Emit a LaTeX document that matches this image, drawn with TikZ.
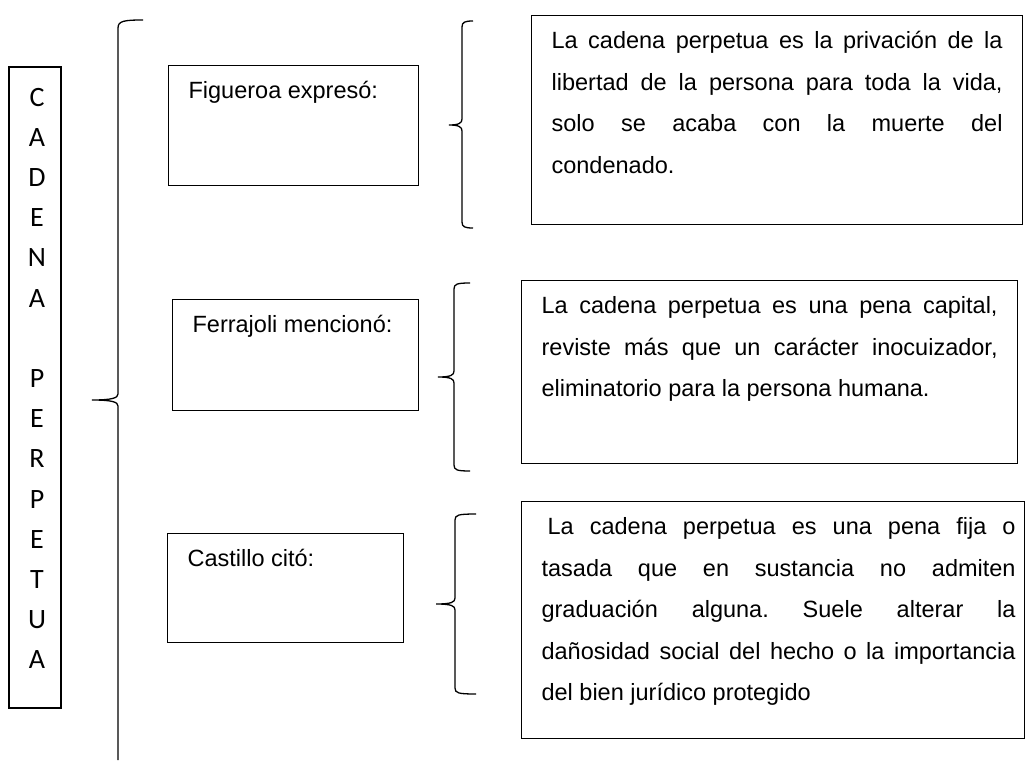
\documentclass[tikz,border=0pt]{standalone}
\usepackage{fontspec}
\setmainfont{Liberation Sans}
\newfontfamily\carlito{Carlito}
\usepackage{tikz}
\frenchspacing

\tikzset{
    caja/.style={draw, line width=1.2pt, inner xsep=20pt, inner ysep=16pt, anchor=north west},
    llave/.style={line width=1.3pt},
}

\begin{document}
\begin{tikzpicture}[x=1pt, y=-1pt, font=\fontsize{23.5}{41.5}\selectfont]
    \useasboundingbox (0,0) rectangle (1027,760);

    % titulo vertical
    \node[draw, line width=1.2pt, inner sep=0pt, minimum width=52pt, minimum height=641pt] (marco) at (35,387.5) {};
    \node[align=center, inner sep=0pt, font=\carlito\fontsize{28}{40.2}\selectfont] (titulo) at (37,378.5)
        {C\\A\\D\\E\\N\\A\\[40.2pt]P\\E\\R\\P\\E\\T\\U\\A};

    % autores
    \node[caja] (figueroa) at (168,65) {\parbox[t][88pt][t]{210pt}{Figueroa expresó:}};
    \node[caja] (ferrajoli) at (172,299) {\parbox[t][79pt][t]{206pt}{Ferrajoli mencionó:}};
    \node[caja] (castillo) at (167,533) {\parbox[t][77pt][t]{196pt}{Castillo citó:}};

    % citas
    \node[caja] (cita1) at (531,15) {\parbox[t][177pt][t]{451pt}{La cadena perpetua es la privación de la\linebreak
        libertad de la persona para toda la vida,\linebreak solo se acaba con la muerte del\linebreak condenado.}};
    \node[caja] (cita2) at (521,280) {\parbox[t][151pt][t]{456pt}{La cadena perpetua es una pena capital,\linebreak
        reviste más que un carácter inocuizador,\linebreak eliminatorio para la persona humana.}};
    \node[caja, inner xsep=9pt] (cita3) at (521,501) {\parbox[t][205pt][t]{485pt}{\leftskip=11pt
        \hspace*{6pt}La cadena perpetua es una pena fija o\linebreak tasada que en sustancia no admiten\linebreak
        graduación alguna. Suele alterar la\linebreak dañosidad social del hecho o la importancia\linebreak
        del bien jurídico protegido}};

    % llaves
    \draw[llave] (143,20) .. controls (124,20) and (118,21) .. (118,28) -- (118,394)
        .. controls (118,398) and (112,400) .. (92,400) .. controls (112,400) and (118,402) .. (118,406) -- (118,760);
    \draw[llave] (473,21) .. controls (465,21) and (462,22) .. (462,27) -- (462,119)
        .. controls (462,123) and (459,125) .. (449,125) .. controls (459,125) and (462,127) .. (462,131)
        -- (462,222) .. controls (462,227) and (465,228) .. (473,228);
    \draw[llave] (470,283) .. controls (457,283) and (454,284) .. (454,289) -- (454,371)
        .. controls (454,375) and (451,377) .. (438,377) .. controls (451,377) and (454,379) .. (454,383)
        -- (454,465) .. controls (454,470) and (457,471) .. (470,471);
    \draw[llave] (476,514) .. controls (458,514) and (455,515) .. (455,520) -- (455,598)
        .. controls (455,602) and (452,604) .. (436,604) .. controls (452,604) and (455,606) .. (455,610)
        -- (455,688) .. controls (455,693) and (458,694) .. (476,694);

\end{tikzpicture}
\end{document}
